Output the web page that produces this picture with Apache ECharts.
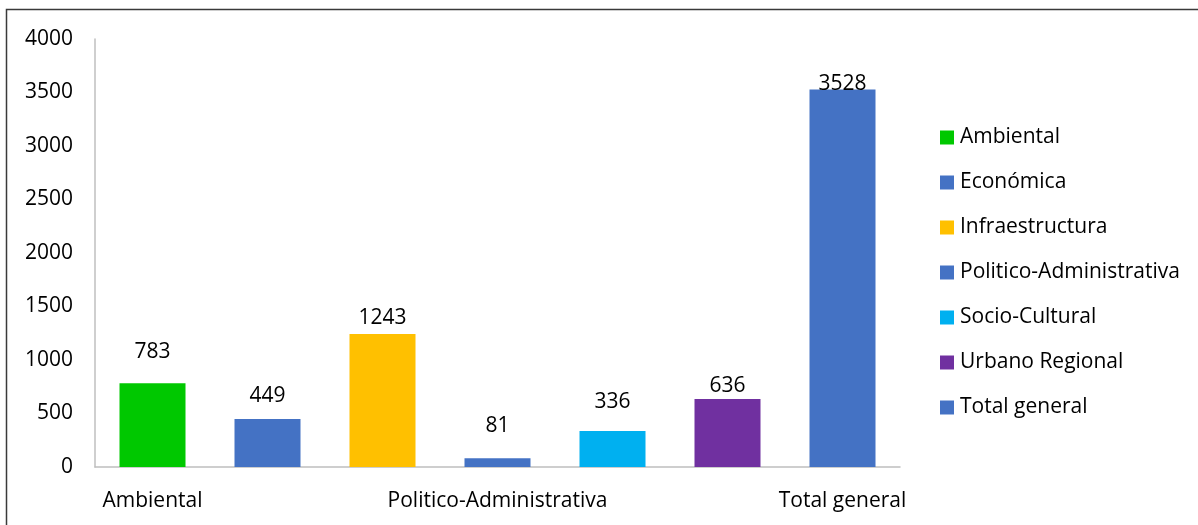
<!DOCTYPE html>
<html>
<head>
<meta charset="utf-8">
<script src="https://cdn.jsdelivr.net/npm/echarts@6/dist/echarts.min.js"></script>
<style>
html,body{margin:0;padding:0;background:#fff;}
#chart{width:1198px;height:525px;}
</style>
</head>
<body>
<div id="chart"></div>
<script>
const categories = ["Ambiental","Económica","Infraestructura","Politico-Administrativa","Socio-Cultural","Urbano Regional","Total general"];
const values = [783, 449, 1243, 81, 336, 636, 3528];
const yTicks = [0, 500, 1000, 1500, 2000, 2500, 3000, 3500, 4000];

const colors = ["#00C800","#4472C4","#FFC000","#4472C4","#00B0F0","#7030A0","#4472C4"];
const labelGaps = [21, 12, 5, 22, 19, 2, -5];
const FONT = "'Open Sans', sans-serif";
const FS = 21;

const chart = echarts.init(document.getElementById('chart'));
const series = categories.map((name, i) => ({
  name: name,
  type: 'bar',
  barWidth: 66,
  barGap: '-100%',
  itemStyle: { color: colors[i] },
  label: {
    show: true,
    position: 'top',
    distance: labelGaps[i],
    color: '#000',
    fontFamily: FONT,
    fontSize: FS
  },
  data: categories.map((c, j) => j === i ? values[j] : '-')
}));

chart.setOption({
  animation: false,
  textStyle: { fontFamily: FONT },
  graphic: [{
    type: 'rect',
    shape: { x: 6.5, y: 9.5, width: 1300, height: 600 },
    style: { fill: 'none', stroke: '#3a3a3a', lineWidth: 1.5 },
    silent: true
  }],
  grid: { left: 95, right: 298, top: 39, bottom: 58 },
  legend: {
    orient: 'vertical',
    left: 935,
    top: 122,
    itemWidth: 14,
    itemHeight: 14,
    itemGap: 24,
    icon: 'rect',
    textStyle: { fontFamily: FONT, fontSize: FS, color: '#000', padding: [0,0,0,1] },
    data: categories
  },
  xAxis: {
    type: 'category',
    data: categories,
    axisLine: { lineStyle: { color: '#bfbfbf', width: 1.5 } },
    axisTick: { show: false },
    axisLabel: { interval: 2, color: '#000', fontFamily: FONT, fontSize: FS, margin: 24 }
  },
  yAxis: {
    type: 'value',
    min: yTicks[0],
    max: yTicks[yTicks.length - 1],
    interval: yTicks[1] - yTicks[0],
    axisLine: { show: true, lineStyle: { color: '#bfbfbf', width: 1.5 } },
    axisTick: { show: false },
    splitLine: { show: false },
    axisLabel: { color: '#000', fontFamily: FONT, fontSize: FS, margin: 22, formatter: v => String(v) }
  },
  series: series
});
</script>
</body>
</html>
